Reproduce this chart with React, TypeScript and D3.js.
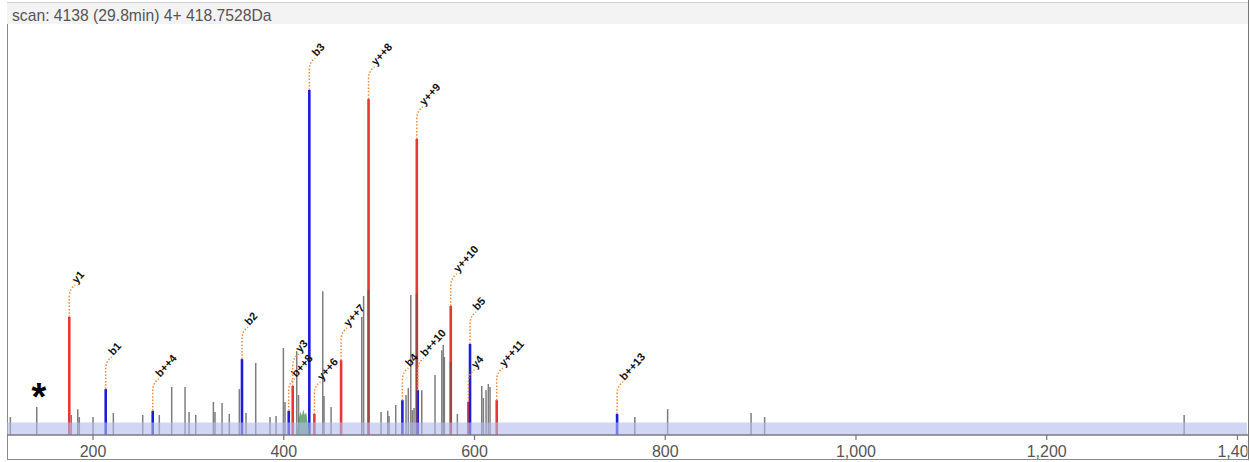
import React, { useEffect, useRef } from "react";
import * as d3 from "d3";

const headerText = "scan: 4138 (29.8min) 4+ 418.7528Da";
const xTicks = [200, 400, 600, 800, 1000, 1200, 1400];

// annotated (matched) fragment ions
const annMz = [175.1, 213.3, 262.6, 356.2, 405.2, 409.4, 426.8, 432.1, 460.1, 488.9, 524.4, 539.5, 540.5, 575.1, 593.6, 595.3, 623.3, 749.5];
const annIntensity = [34.2, 13.3, 7.0, 22.0, 7.0, 14.2, 100, 6.1, 21.7, 97.4, 10.1, 85.8, 13.0, 37.4, 9.6, 26.4, 10.1, 6.1];
const annLabels = ["y1", "b1", "b++4", "b2", "b++8", "y3", "b3", "y++6", "y++7", "y++8", "b4", "y++9", "b++10", "y++10", "y4", "b5", "y++11", "b++13"];
const annType = ["y", "b", "b", "b", "b", "y", "b", "y", "y", "y", "b", "y", "b", "y", "y", "b", "y", "b"];

// unmatched peaks
const otherMz = [113.3, 141.0, 177.2, 184.0, 185.6, 200.0, 221.3, 252.1, 269.5, 282.5, 296.5, 300.7, 307.7, 326.2, 327.9, 335.3, 342.9, 353.4, 360.4, 370.6, 385.6, 391.9, 399.6, 401.3, 413.6, 415.5, 440.9, 442.2, 449.6, 481.8, 483.7, 502.0, 509.0, 510.4, 517.4, 528.2, 530.6, 533.2, 534.8, 536.6, 544.7, 558.6, 565.7, 567.3, 568.4, 582.0, 607.6, 609.3, 612.1, 614.5, 616.3, 768.1, 802.5, 890.0, 904.2, 1344.1];
const otherIntensity = [5.2, 8.1, 5.8, 7.5, 5.2, 5.2, 6.4, 5.8, 5.8, 13.9, 13.9, 6.7, 5.8, 9.6, 6.7, 9.3, 6.1, 13.3, 6.4, 20.9, 5.2, 5.5, 25.2, 9.6, 24.3, 11.6, 41.7, 11.3, 8.1, 34.2, 40.3, 6.7, 7.0, 5.5, 8.7, 11.6, 13.6, 40.6, 7.2, 7.8, 13.0, 17.4, 24.6, 26.1, 22.6, 6.1, 14.2, 10.7, 13.0, 14.8, 13.9, 5.2, 7.5, 6.4, 5.2, 5.8];

// unmatched peaks hidden behind matched ones (drawn translucent on top)
const overlayMz = [488.9, 539.5, 575.1];
const overlayIntensity = [42, 41, 21.2];

// precursor isotope envelope
const isoMz = [413.0, 415.5, 417.5, 419.0, 420.5, 422.0, 423.5, 425.0, 427.0];
const isoIntensity = [0, 4.5, 6.8, 5.6, 7.4, 5.8, 6.6, 3.5, 0];

const COLORS: Record<string, string> = { b: "#1c1cd8", y: "#e63636" };

export default function App() {
  const ref = useRef<SVGSVGElement>(null);

  useEffect(() => {
    const svg = d3.select(ref.current);
    svg.selectAll("*").remove();
    const W = 1250, H = 462;
    const left = 7, right = 1247, base = 435;
    const x = d3.scaleLinear().domain([109.8, 1410]).range([left, right]);
    const y = d3.scaleLinear().domain([0, 100]).range([base, 90]);

    svg.append("rect").attr("x", 0).attr("y", 0).attr("width", W).attr("height", H).attr("fill", "#fff");

    // header
    svg.append("rect").attr("x", 7).attr("y", 2).attr("width", 1241).attr("height", 22).attr("fill", "#f3f3f3");
    svg.append("line").attr("x1", 7).attr("x2", 1248).attr("y1", 2.5).attr("y2", 2.5).attr("stroke", "#cfcfcf");
    svg.append("text").attr("x", 12).attr("y", 20.5).attr("font-family", "Liberation Sans, Arial, sans-serif")
      .attr("font-size", 15.7).attr("fill", "#555").text(headerText);

    // frame
    svg.append("line").attr("x1", 7.5).attr("x2", 7.5).attr("y1", 24).attr("y2", 459.5).attr("stroke", "#8a8a8a");
    svg.append("line").attr("x1", 1248.5).attr("x2", 1248.5).attr("y1", 0).attr("y2", 459.5).attr("stroke", "#777");
    svg.append("line").attr("x1", 7).attr("x2", 1249).attr("y1", 459.5).attr("y2", 459.5).attr("stroke", "#8a8a8a");

    const g = svg.append("g");

    // unmatched peaks
    g.selectAll("line.other").data(otherMz.map((m, i) => [m, otherIntensity[i]])).join("line")
      .attr("class", "other")
      .attr("x1", d => x(d[0])).attr("x2", d => x(d[0]))
      .attr("y1", base).attr("y2", d => y(d[1]))
      .attr("stroke", "#666").attr("stroke-opacity", 0.85).attr("stroke-width", 1.5);

    // matched peaks
    const ann = annMz.map((m, i) => ({ m, v: annIntensity[i], label: annLabels[i], t: annType[i] }));
    g.selectAll("line.ann").data(ann).join("line")
      .attr("class", "ann")
      .attr("x1", d => x(d.m)).attr("x2", d => x(d.m))
      .attr("y1", base).attr("y2", d => y(d.v))
      .attr("stroke", d => COLORS[d.t]).attr("stroke-width", 2.6);

    g.selectAll("line.overlay").data(overlayMz.map((m, i) => [m, overlayIntensity[i]])).join("line")
      .attr("class", "overlay")
      .attr("x1", d => x(d[0])).attr("x2", d => x(d[0]))
      .attr("y1", base).attr("y2", d => y(d[1]))
      .attr("stroke", "#555").attr("stroke-opacity", 0.45).attr("stroke-width", 2.6);

    // isotope envelope
    const area = d3.area<number>().x((_, i) => x(isoMz[i])).y0(base).y1(d => y(d)).curve(d3.curveLinear);
    g.append("path").attr("d", area(isoIntensity) || "").attr("fill", "#3f8f52").attr("fill-opacity", 0.75);

    // band
    g.append("rect").attr("x", left).attr("y", 422.5).attr("width", right - left).attr("height", base - 422.5)
      .attr("fill", "rgb(178,186,238)").attr("fill-opacity", 0.6);

    // axis
    g.append("line").attr("x1", left).attr("x2", right + 1).attr("y1", base).attr("y2", base)
      .attr("stroke", "#7a7a7a").attr("stroke-width", 1.5);
    const clip = svg.append("defs").append("clipPath").attr("id", "axclip");
    clip.append("rect").attr("x", 0).attr("y", 0).attr("width", 1247.5).attr("height", H);
    const ax = g.append("g").attr("clip-path", "url(#axclip)");
    const fmt = d3.format(",");
    xTicks.forEach(t => {
      ax.append("line").attr("x1", x(t)).attr("x2", x(t)).attr("y1", base).attr("y2", base + 5)
        .attr("stroke", "#777").attr("stroke-width", 1.2);
      ax.append("text").attr("x", x(t)).attr("y", 456.5).attr("text-anchor", "middle")
        .attr("font-family", "Liberation Sans, Arial, sans-serif").attr("font-size", 16).attr("fill", "#555")
        .text(fmt(t));
    });

    // leaders + labels
    ann.forEach(d => {
      const px = x(d.m), py = y(d.v);
      g.append("path")
        .attr("d", `M${px},${py} V${py - 20} Q${px},${py - 28} ${px + 6},${py - 32}`)
        .attr("fill", "none").attr("stroke", "#f0883a").attr("stroke-width", 1.5)
        .attr("stroke-dasharray", "1.5,1.8");
      g.append("text")
        .attr("transform", `translate(${px + 7.5},${py - 33}) rotate(-48)`)
        .attr("font-family", "Liberation Sans, Arial, sans-serif").attr("font-weight", "bold")
        .attr("font-size", 11).attr("fill", "#111").text(d.label);
    });

    // asterisk marker
    g.append("text").attr("x", 39).attr("y", 410).attr("text-anchor", "middle")
      .attr("font-family", "Liberation Sans, Arial, sans-serif").attr("font-weight", "bold")
      .attr("font-size", 38).attr("fill", "#000").text("*");
  }, []);

  return (
    <div style={{ position: "fixed", left: 0, top: 0 }}>
      <svg ref={ref} width={1250} height={462} style={{ display: "block" }} />
    </div>
  );
}
